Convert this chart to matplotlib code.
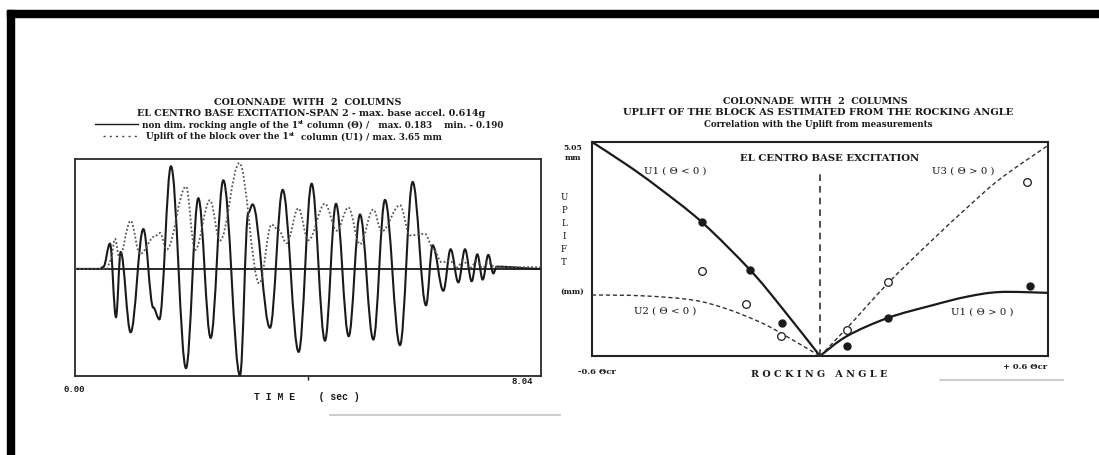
import matplotlib
matplotlib.use("Agg")
import matplotlib.pyplot as plt
from matplotlib.patches import Rectangle, PathPatch
from matplotlib.lines import Line2D
from matplotlib.path import Path

# ---------------- data: left panel (time history) ----------------
time_theta = [0.0, 0.431, 0.489, 0.604, 0.707, 0.788, 0.960, 1.179, 1.351, 1.455,
              1.656, 1.915, 2.128, 2.341, 2.559, 2.847, 2.990, 3.065, 3.364, 3.583,
              3.859, 4.083, 4.313, 4.503, 4.722, 4.917, 5.147, 5.348, 5.607, 5.826,
              6.056, 6.171, 6.355, 6.481, 6.614, 6.729, 6.844, 6.941, 7.034, 7.131,
              7.218, 7.275, 8.04]
theta = [0.0, 0.0, 0.0035, 0.045, -0.086, 0.030, -0.113, 0.071, -0.069, -0.090,
         0.183, -0.177, 0.126, -0.123, 0.158, -0.190, 0.100, 0.115, -0.105, 0.141,
         -0.148, 0.152, -0.128, 0.116, -0.120, 0.097, -0.126, 0.123, -0.136, 0.155,
         -0.065, 0.042, -0.039, 0.035, -0.024, 0.035, -0.022, 0.026, -0.019, 0.025,
         -0.008, 0.004, 0.0]

time_uplift = [0.0, 0.546, 0.615, 0.690, 0.765, 0.960, 1.121, 1.380, 1.467, 1.582,
               1.915, 2.070, 2.329, 2.502, 2.835, 3.180, 3.393, 3.508, 3.652, 3.853,
               4.026, 4.313, 4.515, 4.716, 4.917, 5.147, 5.291, 5.607, 5.780, 6.039,
               6.182, 6.326, 6.470, 6.585, 6.700, 6.815, 6.930, 7.034, 7.131, 7.246,
               8.04]
uplift_mm = [0.0, 0.0, 0.29, 1.04, 0.40, 1.66, 0.51, 1.13, 1.24, 0.67,
             2.84, 0.65, 2.37, 0.98, 3.65, -0.50, 1.53, 1.35, 0.89, 2.09,
             0.99, 2.25, 1.32, 2.12, 0.85, 2.05, 1.29, 2.20, 1.16, 1.21,
             0.69, 0.23, 0.28, 0.05, 0.27, 0.04, 0.26, 0.03, 0.22, 0.06,
             0.06]

# ---------------- data: right panel (uplift vs rocking angle) ----------------
u1_neg_x = [-0.60, -0.508, -0.429, -0.311, -0.184, -0.105, 0.0]
u1_neg_y = [5.05, 4.51, 4.00, 3.16, 2.03, 1.19, 0.0]
u2_neg_x = [-0.60, -0.466, -0.334, -0.245, -0.158, -0.103, 0.0]
u2_neg_y = [1.44, 1.42, 1.32, 1.11, 0.80, 0.54, 0.0]
u3_pos_x = [0.0, 0.071, 0.179, 0.297, 0.387, 0.474, 0.60]
u3_pos_y = [0.0, 0.66, 1.72, 2.75, 3.50, 4.18, 4.97]
u1_pos_x = [0.0, 0.071, 0.179, 0.297, 0.387, 0.474, 0.60]
u1_pos_y = [0.0, 0.47, 0.90, 1.20, 1.40, 1.51, 1.49]
meas_filled_x = [-0.31, -0.184, -0.10, 0.071, 0.179, 0.553]
meas_filled_y = [3.16, 2.03, 0.78, 0.24, 0.90, 1.65]
meas_open_x = [-0.31, -0.195, -0.103, 0.071, 0.179, 0.545]
meas_open_y = [2.00, 1.23, 0.47, 0.61, 1.75, 4.10]

W, H = 1099, 456
fig = plt.figure(figsize=(W / 100, H / 100), dpi=100)
fig.patch.set_facecolor('white')
renderer = fig.canvas.get_renderer()


def fx(px):
    return px / W


def fy(py):
    return 1 - py / H


def peak_path(xs, ys):
    """Smooth path through read extrema (horizontal tangent at each read point)."""
    verts = [(xs[0], ys[0])]
    codes = [Path.MOVETO]
    for i in range(len(xs) - 1):
        dx = xs[i + 1] - xs[i]
        verts += [(xs[i] + 0.364 * dx, ys[i]), (xs[i + 1] - 0.364 * dx, ys[i + 1]), (xs[i + 1], ys[i + 1])]
        codes += [Path.CURVE4] * 3
    return Path(verts, codes)


def smooth_path(xs, ys):
    """Catmull-Rom style smooth path through the read points."""
    pts = list(zip(xs, ys))
    n = len(pts)
    verts = [pts[0]]
    codes = [Path.MOVETO]
    for i in range(n - 1):
        p0 = pts[i - 1] if i > 0 else pts[i]
        p1, p2 = pts[i], pts[i + 1]
        p3 = pts[i + 2] if i + 2 < n else pts[i + 1]
        c1 = (p1[0] + (p2[0] - p0[0]) / 6, p1[1] + (p2[1] - p0[1]) / 6)
        c2 = (p2[0] - (p3[0] - p1[0]) / 6, p2[1] - (p3[1] - p1[1]) / 6)
        verts += [c1, c2, p2]
        codes += [Path.CURVE4] * 3
    return Path(verts, codes)


SERIF = 'DejaVu Serif'
MONO = 'Liberation Mono'
INK = '#1a1a1a'


def run_text(x_px, y_px, parts):
    """Left-aligned text made of parts (string, fontsize, raise_px)."""
    x = x_px
    for s, fs, dy in parts:
        t = fig.text(fx(x), fy(y_px - dy), s, family=SERIF, weight='bold', fontsize=fs,
                     ha='left', va='center', color=INK)
        bb = t.get_window_extent(renderer)
        x = bb.x1


# scan border (top and left)
fig.patches.append(Rectangle((fx(7), fy(18)), 1 - fx(7), 7 / H, transform=fig.transFigure,
                             color='black', zorder=10))
fig.patches.append(Rectangle((fx(7), 0), 7 / W, fy(11), transform=fig.transFigure,
                             color='black', zorder=10))
# faint scan smudges
fig.add_artist(Line2D([fx(330), fx(560)], [fy(416), fy(416)], transform=fig.transFigure,
                      color='#c4c4c4', lw=1.2))
fig.add_artist(Line2D([fx(940), fx(1063)], [fy(381), fy(381)], transform=fig.transFigure,
                      color='#c4c4c4', lw=1.2))

# ---------------- left panel ----------------
axL = fig.add_axes([fx(75), fy(377), 466 / W, 217 / H])
axL.add_patch(PathPatch(peak_path(time_theta, theta), fill=False, edgecolor=INK, lw=1.5, zorder=3))
axL.axhline(0, color=INK, lw=1.3, zorder=2)
axL.set_xlim(0, 8.04)
axL.set_ylim(-0.191, 0.196)
axU = axL.twinx()
axU.add_patch(PathPatch(peak_path(time_uplift, uplift_mm), fill=False, edgecolor='#555555', lw=1.3,
                        linestyle=(0, (1, 1.2)), zorder=2))
axU.set_xlim(0, 8.04)
axU.set_ylim(-3.69, 3.79)
axU.axis('off')
axL.set_yticks([])
axL.set_xticks([4.02])
axL.set_xticklabels([])
axL.tick_params(axis='x', length=3, width=1.0, direction='out', color=INK)
for s in axL.spines.values():
    s.set_linewidth(1.3)
    s.set_color('#2a2a2a')

fig.text(fx(74), fy(389), '0.00', family=MONO, weight='bold', fontsize=6.5, ha='center', va='center', color=INK)
fig.text(fx(522), fy(382), '8.04', family=MONO, weight='bold', fontsize=6.5, ha='center', va='center', color=INK)
fig.text(fx(307), fy(397), 'T I M E    ( sec )', family=MONO, weight='bold', fontsize=7,
         ha='center', va='center', color=INK)

fig.text(fx(308), fy(102.5), 'COLONNADE  WITH  2  COLUMNS', family=SERIF, weight='bold', fontsize=6.9,
         ha='center', va='center', color=INK)
fig.text(fx(311), fy(114), 'EL CENTRO BASE EXCITATION-SPAN 2 - max. base accel. 0.614g', family=SERIF,
         weight='bold', fontsize=6.8, ha='center', va='center', color=INK)
fig.add_artist(Line2D([fx(95), fx(138)], [fy(125.3), fy(125.3)], transform=fig.transFigure, color=INK, lw=1.0))
run_text(142, 125.3, [('non dim. rocking angle of the 1', 6.3, 0), ('st', 4.3, 2.5),
                      (' column (Θ) /   max. 0.183    min. - 0.190', 6.3, 0)])
fig.add_artist(Line2D([fx(103), fx(138)], [fy(136.8), fy(136.8)], transform=fig.transFigure, color='#444444',
                      lw=1.0, linestyle=(0, (1.5, 3))))
run_text(146, 136.8, [('Uplift of the block over the 1', 6.3, 0), ('st', 4.3, 2.5),
                      ('  column (U1) / max. 3.65 mm', 6.3, 0)])

# ---------------- right panel ----------------
axP = fig.add_axes([fx(592), fy(357), 456 / W, 214 / H])
axP.add_patch(PathPatch(smooth_path(u1_neg_x, u1_neg_y), fill=False, edgecolor=INK, lw=1.6, zorder=3))
axP.add_patch(PathPatch(smooth_path(u1_pos_x, u1_pos_y), fill=False, edgecolor=INK, lw=1.6, zorder=3))
axP.add_patch(PathPatch(smooth_path(u2_neg_x, u2_neg_y), fill=False, edgecolor='#333333', lw=1.0,
                        linestyle=(0, (3, 2)), zorder=3))
axP.add_patch(PathPatch(smooth_path(u3_pos_x, u3_pos_y), fill=False, edgecolor='#333333', lw=1.0,
                        linestyle=(0, (3, 2)), zorder=3))
axP.plot([0, 0], [0, 4.3], color='#333333', lw=1.2, linestyle=(0, (4, 3)), zorder=2)
axP.plot(meas_filled_x, meas_filled_y, linestyle='none', marker='o', ms=5, mfc=INK, mec=INK, zorder=4)
axP.plot(meas_open_x, meas_open_y, linestyle='none', marker='o', ms=5.5, mfc='white', mec=INK,
         mew=0.9, zorder=4)
axP.set_xlim(-0.6, 0.6)
axP.set_ylim(0, 5.05)
axP.set_xticks([])
axP.set_yticks([])
for s in axP.spines.values():
    s.set_linewidth(1.5)
    s.set_color('#222222')

axP.text(0.025, 4.68, 'EL CENTRO BASE EXCITATION', family=SERIF, weight='bold', fontsize=7.3,
         ha='center', va='center', color=INK)
axP.text(-0.38, 4.38, 'U1 ( Θ < 0 )', family=SERIF, fontsize=7.3, ha='center', va='center', color=INK)
axP.text(0.377, 4.38, 'U3 ( Θ > 0 )', family=SERIF, fontsize=7.3, ha='center', va='center', color=INK)
axP.text(-0.408, 1.09, 'U2 ( Θ < 0 )', family=SERIF, fontsize=7.3, ha='center', va='center', color=INK)
axP.text(0.426, 1.06, 'U1 ( Θ > 0 )', family=SERIF, fontsize=7.3, ha='center', va='center', color=INK)

fig.text(fx(815), fy(101.5), 'COLONNADE  WITH  2  COLUMNS', family=SERIF, weight='bold', fontsize=6.8,
         ha='center', va='center', color=INK)
fig.text(fx(818), fy(113), 'UPLIFT OF THE BLOCK AS ESTIMATED FROM THE ROCKING ANGLE', family=SERIF,
         weight='bold', fontsize=7.1, ha='center', va='center', color=INK)
fig.text(fx(818), fy(124.5), 'Correlation with the Uplift from measurements', family=SERIF,
         weight='bold', fontsize=6.2, ha='center', va='center', color=INK)

fig.text(fx(573), fy(148), '5.05', family=SERIF, weight='bold', fontsize=5.6, ha='center', va='center', color=INK)
fig.text(fx(573), fy(158), 'mm', family=SERIF, weight='bold', fontsize=5.6, ha='center', va='center', color=INK)
for i, ch in enumerate('UPLIFT'):
    fig.text(fx(564), fy(197 + i * 13.2), ch, family=SERIF, fontsize=6.2, ha='center', va='center', color=INK)
fig.text(fx(572), fy(292), '(mm)', family=SERIF, weight='bold', fontsize=5.6, ha='center', va='center', color=INK)
fig.text(fx(597), fy(372), '-0.6 Θcr', family=SERIF, weight='bold', fontsize=6.0, ha='center', va='center', color=INK)
fig.text(fx(1047), fy(367), '+ 0.6 Θcr', family=SERIF, weight='bold', fontsize=6.0, ha='right', va='center', color=INK)
fig.text(fx(819), fy(375), 'R O C K I N G   A N G L E', family=SERIF, weight='bold', fontsize=6.9,
         ha='center', va='center', color=INK)

fig.savefig('out.png', dpi=100, facecolor='white')
